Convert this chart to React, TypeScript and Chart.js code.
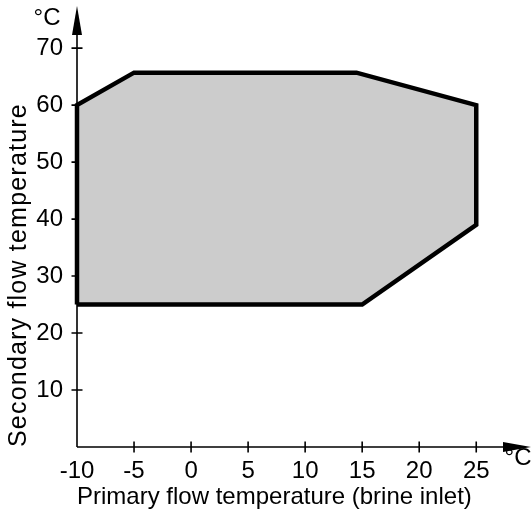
import React, { useEffect, useRef } from "react";
import { Chart, registerables } from "chart.js";

Chart.register(...registerables);

// Operating envelope polygon (primary °C, secondary °C)
const polyX = [-10, -10, -5, 14.5, 25, 25, 15, -10];
const polyY = [25, 60, 65.7, 65.7, 60, 39, 25, 25];

const xTicks = [-10, -5, 0, 5, 10, 15, 20, 25];
const yTicks = [10, 20, 30, 40, 50, 60, 70];

const xTitle = "Primary flow temperature (brine inlet)";
const yTitle = "Secondary flow temperature";
const unitLabel = "°C";

const FONT = "'Liberation Sans', Arial, sans-serif";
const TICK_SIZE = 24;

const axesPlugin = {
  id: "arrowAxes",
  beforeDatasetsDraw(chart: any) {
    const { ctx, chartArea, scales } = chart;
    const xs = scales.x;
    const ys = scales.y;
    const x0 = xs.getPixelForValue(-10);
    const y0 = ys.getPixelForValue(0);
    ctx.save();
    ctx.strokeStyle = "#000";
    ctx.fillStyle = "#000";
    ctx.lineWidth = 1.6;
    ctx.beginPath();
    ctx.moveTo(x0, y0);
    ctx.lineTo(chartArea.right - 20, y0);
    ctx.moveTo(x0, y0);
    ctx.lineTo(x0, chartArea.top + 20);
    ctx.stroke();
    ctx.beginPath();
    for (const v of xTicks) {
      if (v === -10) continue;
      const px = xs.getPixelForValue(v);
      ctx.moveTo(px, y0 - 5.5);
      ctx.lineTo(px, y0 + 5.5);
    }
    for (const v of yTicks) {
      const py = ys.getPixelForValue(v);
      ctx.moveTo(x0 - 5.5, py);
      ctx.lineTo(x0 + 5.5, py);
    }
    ctx.stroke();
    ctx.beginPath();
    ctx.moveTo(chartArea.right, y0);
    ctx.lineTo(chartArea.right - 28, y0 - 5);
    ctx.lineTo(chartArea.right - 28, y0 + 5);
    ctx.closePath();
    ctx.fill();
    ctx.beginPath();
    ctx.moveTo(x0, chartArea.top);
    ctx.lineTo(x0 - 5, chartArea.top + 29);
    ctx.lineTo(x0 + 5, chartArea.top + 29);
    ctx.closePath();
    ctx.fill();
    ctx.font = `${TICK_SIZE}px ${FONT}`;
    ctx.textAlign = "center";
    ctx.textBaseline = "middle";
    ctx.fillText(unitLabel, x0 - 30, chartArea.top + 12);
    ctx.fillText(unitLabel, chartArea.right - 13, y0 + 11);
    ctx.restore();
  },
};

export default function App() {
  const ref = useRef<HTMLCanvasElement | null>(null);
  useEffect(() => {
    if (!ref.current) return;
    const chart = new Chart(ref.current, {
      type: "scatter",
      data: {
        datasets: [
          {
            data: polyX.map((x, i) => ({ x, y: polyY[i] })),
            showLine: true,
            fill: "shape",
            backgroundColor: "#cccccc",
            borderColor: "#000000",
            borderWidth: 4.5,
            borderJoinStyle: "miter",
            pointRadius: 0,
            tension: 0,
            clip: false,
          } as any,
        ],
      },
      options: {
        responsive: false,
        animation: false,
        layout: { padding: { top: 6, right: 0, bottom: 0, left: 0 } },
        plugins: { legend: { display: false }, tooltip: { enabled: false } },
        scales: {
          x: {
            type: "linear",
            min: -10,
            max: 29.8,
            border: { display: false },
            grid: { display: false, drawTicks: false },
            afterFit: (s: any) => {
              s.height = 67;
              s.paddingLeft = 0;
              s.paddingRight = 0;
            },
            afterBuildTicks: (s: any) => {
              s.ticks = xTicks.map((v) => ({ value: v }));
            },
            ticks: {
              padding: 10,
              color: "#000",
              font: { family: FONT, size: TICK_SIZE },
              maxRotation: 0,
              autoSkip: false,
              callback: (v: any) => String(v),
            },
            title: {
              display: true,
              text: xTitle,
              align: "start",
              color: "#000",
              font: { family: FONT, size: 24 },
              padding: { top: 0, bottom: 2 },
            },
          },
          y: {
            type: "linear",
            min: 0,
            max: 77.4,
            border: { display: false },
            grid: { display: false, drawTicks: false },
            afterFit: (s: any) => {
              s.width = 77;
              s.paddingTop = 0;
              s.paddingBottom = 0;
              if (!s.__wrapped) {
                const orig = s.drawTitle;
                s.drawTitle = function (...args: any[]) {
                  const c = this.ctx;
                  const prev = c.letterSpacing;
                  c.letterSpacing = "1.2px";
                  orig.apply(this, args);
                  c.letterSpacing = prev || "0px";
                };
                s.__wrapped = true;
              }
            },
            afterBuildTicks: (s: any) => {
              s.ticks = yTicks.map((v) => ({ value: v }));
            },
            ticks: {
              padding: 14,
              color: "#000",
              font: { family: FONT, size: TICK_SIZE },
              autoSkip: false,
              callback: (v: any) => String(v),
            },
            title: {
              display: true,
              text: yTitle,
              align: "start",
              color: "#000",
              font: { family: FONT, size: 25 },
              padding: { top: 4, bottom: 0 },
            },
          },
        },
      },
      plugins: [axesPlugin],
    });
    return () => chart.destroy();
  }, []);
  return (
    <div style={{ position: "fixed", left: 0, top: 0, width: 531, height: 514, background: "#fff" }}>
      <canvas ref={ref} width={531} height={514} style={{ width: 531, height: 514 }} />
    </div>
  );
}
